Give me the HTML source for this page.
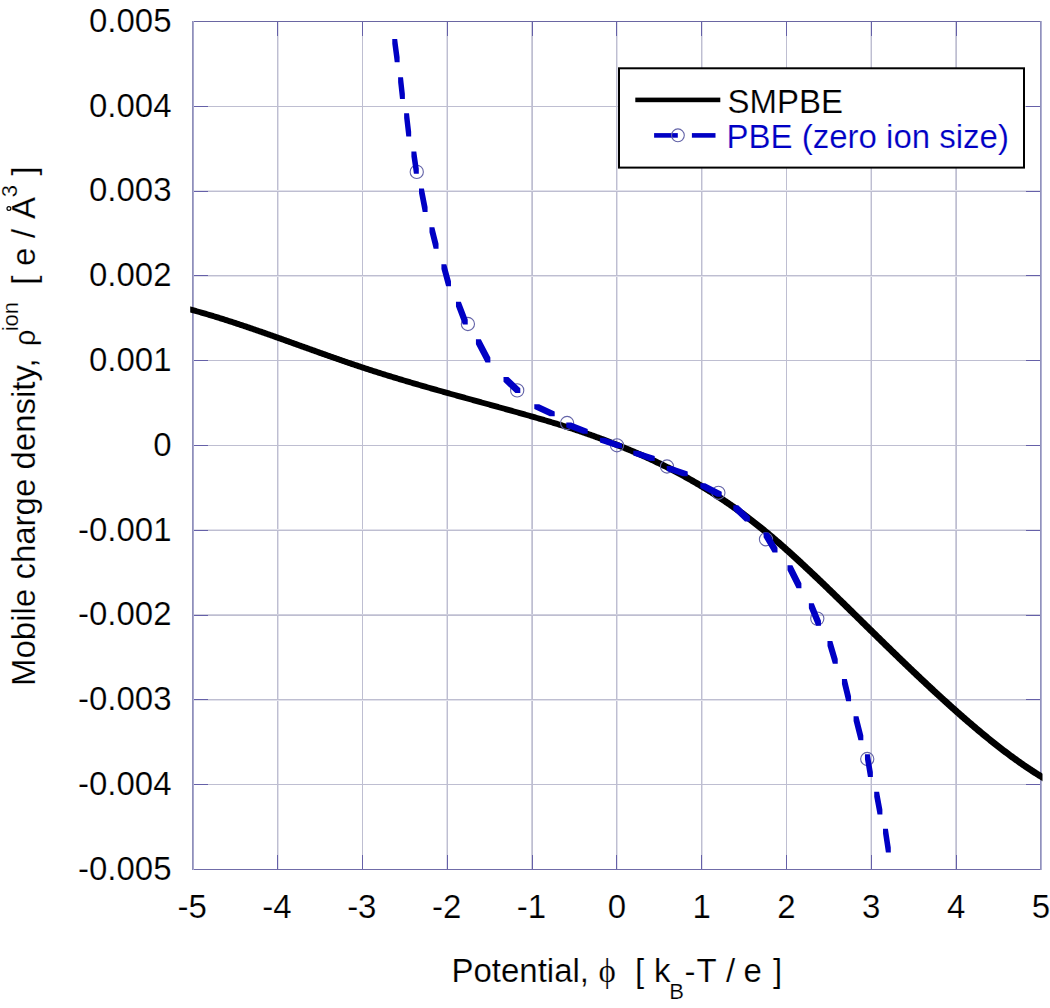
<!DOCTYPE html>
<html><head><meta charset="utf-8"><style>html,body{margin:0;padding:0;background:#fff;overflow:hidden}svg{display:block}text{stroke:#fff;stroke-width:0.2px;paint-order:fill}</style></head>
<body><svg width="1050" height="1008" viewBox="0 0 1050 1008"><rect x="0" y="0" width="1050" height="1008" fill="#fff"/>
<rect x="278" y="21" width="1" height="848" fill="#e1e1eb"/>
<rect x="277" y="21" width="1" height="848" fill="#bebed1"/>
<rect x="362" y="21" width="1" height="848" fill="#bebed1"/>
<rect x="446" y="21" width="1" height="848" fill="#e1e1eb"/>
<rect x="447" y="21" width="1" height="848" fill="#bebed1"/>
<rect x="531" y="21" width="1" height="848" fill="#cfcfdd"/>
<rect x="532" y="21" width="1" height="848" fill="#bebed1"/>
<rect x="617" y="21" width="1" height="848" fill="#e1e1eb"/>
<rect x="616" y="21" width="1" height="848" fill="#bebed1"/>
<rect x="702" y="21" width="1" height="848" fill="#e1e1eb"/>
<rect x="701" y="21" width="1" height="848" fill="#bebed1"/>
<rect x="786" y="21" width="1" height="848" fill="#bebed1"/>
<rect x="870" y="21" width="1" height="848" fill="#e1e1eb"/>
<rect x="871" y="21" width="1" height="848" fill="#bebed1"/>
<rect x="955" y="21" width="1" height="848" fill="#cfcfdd"/>
<rect x="956" y="21" width="1" height="848" fill="#bebed1"/>
<rect x="192" y="106" width="849" height="1" fill="#bebed1"/>
<rect x="192" y="190" width="849" height="1" fill="#e1e1eb"/>
<rect x="192" y="191" width="849" height="1" fill="#bebed1"/>
<rect x="192" y="276" width="849" height="1" fill="#e1e1eb"/>
<rect x="192" y="275" width="849" height="1" fill="#bebed1"/>
<rect x="192" y="360" width="849" height="1" fill="#bebed1"/>
<rect x="192" y="445" width="849" height="1" fill="#bebed1"/>
<rect x="192" y="529" width="849" height="1" fill="#e1e1eb"/>
<rect x="192" y="530" width="849" height="1" fill="#bebed1"/>
<rect x="192" y="614" width="849" height="1" fill="#cfcfdd"/>
<rect x="192" y="615" width="849" height="1" fill="#bebed1"/>
<rect x="192" y="700" width="849" height="1" fill="#e1e1eb"/>
<rect x="192" y="699" width="849" height="1" fill="#bebed1"/>
<rect x="192" y="784" width="849" height="1" fill="#bebed1"/>
<rect x="277" y="22" width="1" height="14" fill="#6560a8"/>
<rect x="277" y="855" width="1" height="14" fill="#6560a8"/>
<rect x="362" y="22" width="1" height="14" fill="#6560a8"/>
<rect x="362" y="855" width="1" height="14" fill="#6560a8"/>
<rect x="447" y="22" width="1" height="14" fill="#6560a8"/>
<rect x="447" y="855" width="1" height="14" fill="#6560a8"/>
<rect x="532" y="22" width="1" height="14" fill="#6560a8"/>
<rect x="532" y="855" width="1" height="14" fill="#6560a8"/>
<rect x="616" y="22" width="1" height="14" fill="#6560a8"/>
<rect x="616" y="855" width="1" height="14" fill="#6560a8"/>
<rect x="701" y="22" width="1" height="14" fill="#6560a8"/>
<rect x="701" y="855" width="1" height="14" fill="#6560a8"/>
<rect x="786" y="22" width="1" height="14" fill="#6560a8"/>
<rect x="786" y="855" width="1" height="14" fill="#6560a8"/>
<rect x="871" y="22" width="1" height="14" fill="#6560a8"/>
<rect x="871" y="855" width="1" height="14" fill="#6560a8"/>
<rect x="956" y="22" width="1" height="14" fill="#6560a8"/>
<rect x="956" y="855" width="1" height="14" fill="#6560a8"/>
<rect x="194" y="106" width="14" height="1" fill="#6560a8"/>
<rect x="1026" y="106" width="14" height="1" fill="#6560a8"/>
<rect x="194" y="191" width="14" height="1" fill="#6560a8"/>
<rect x="1026" y="191" width="14" height="1" fill="#6560a8"/>
<rect x="194" y="275" width="14" height="1" fill="#6560a8"/>
<rect x="1026" y="275" width="14" height="1" fill="#6560a8"/>
<rect x="194" y="360" width="14" height="1" fill="#6560a8"/>
<rect x="1026" y="360" width="14" height="1" fill="#6560a8"/>
<rect x="194" y="445" width="14" height="1" fill="#6560a8"/>
<rect x="1026" y="445" width="14" height="1" fill="#6560a8"/>
<rect x="194" y="530" width="14" height="1" fill="#6560a8"/>
<rect x="1026" y="530" width="14" height="1" fill="#6560a8"/>
<rect x="194" y="615" width="14" height="1" fill="#6560a8"/>
<rect x="1026" y="615" width="14" height="1" fill="#6560a8"/>
<rect x="194" y="699" width="14" height="1" fill="#6560a8"/>
<rect x="1026" y="699" width="14" height="1" fill="#6560a8"/>
<rect x="194" y="784" width="14" height="1" fill="#6560a8"/>
<rect x="1026" y="784" width="14" height="1" fill="#6560a8"/>
<rect x="192" y="21" width="850" height="1" fill="#6a66a2"/>
<rect x="192" y="869" width="850" height="1" fill="#706ca8"/>
<rect x="192" y="21" width="1" height="849" fill="#8f8fba"/>
<rect x="193" y="21" width="1" height="849" fill="#a8a8cc"/>
<rect x="1040" y="21" width="1" height="849" fill="#9191bc"/>
<rect x="1041" y="21" width="1" height="849" fill="#b0b0d2"/>
<clipPath id="bc"><rect x="190.2" y="0" width="852.3" height="1008"/></clipPath>
<path d="M185.26,311.15 L186.21,311.40 L187.16,311.66 L188.12,311.92 L189.07,312.17 L190.02,312.43 L190.97,312.70 L191.92,312.96 L192.88,313.22 L193.83,313.49 L194.78,313.75 L195.73,314.02 L196.69,314.29 L197.64,314.56 L198.59,314.84 L199.54,315.11 L200.49,315.39 L201.45,315.66 L202.40,315.94 L203.35,316.22 L204.30,316.50 L205.26,316.78 L206.21,317.06 L207.16,317.35 L208.12,317.63 L209.07,317.92 L210.02,318.21 L210.97,318.50 L211.93,318.79 L212.88,319.08 L213.83,319.37 L214.79,319.66 L215.74,319.96 L216.69,320.25 L217.64,320.55 L218.60,320.85 L219.55,321.15 L220.50,321.45 L221.46,321.75 L222.41,322.05 L223.36,322.35 L224.32,322.66 L225.27,322.96 L226.22,323.27 L227.18,323.57 L228.13,323.88 L229.09,324.19 L230.04,324.50 L230.99,324.81 L231.95,325.12 L232.90,325.44 L233.85,325.75 L234.81,326.06 L235.76,326.38 L236.72,326.70 L237.67,327.01 L238.62,327.33 L239.58,327.65 L240.53,327.97 L241.49,328.29 L242.44,328.61 L243.39,328.93 L244.35,329.25 L245.30,329.58 L246.26,329.90 L247.21,330.22 L248.17,330.55 L249.12,330.88 L250.08,331.20 L251.03,331.53 L251.99,331.86 L252.94,332.19 L253.89,332.52 L254.85,332.84 L255.80,333.18 L256.76,333.51 L257.71,333.84 L258.67,334.17 L259.62,334.50 L260.58,334.83 L261.53,335.17 L262.49,335.50 L263.44,335.84 L264.40,336.17 L265.35,336.51 L266.31,336.84 L267.26,337.18 L268.22,337.52 L269.18,337.85 L270.13,338.19 L271.09,338.53 L272.04,338.87 L273.00,339.21 L273.95,339.54 L274.91,339.88 L275.86,340.22 L276.82,340.56 L277.78,340.90 L278.73,341.24 L279.69,341.59 L280.64,341.93 L281.60,342.27 L282.55,342.61 L283.51,342.95 L284.47,343.29 L285.42,343.64 L286.38,343.98 L287.33,344.32 L288.29,344.66 L289.25,345.01 L290.20,345.35 L291.16,345.69 L292.12,346.03 L293.07,346.38 L294.03,346.72 L294.98,347.06 L295.94,347.41 L296.90,347.75 L297.85,348.09 L298.81,348.44 L299.77,348.78 L300.72,349.13 L301.68,349.47 L302.64,349.81 L303.59,350.16 L304.55,350.50 L305.51,350.84 L306.47,351.18 L307.42,351.53 L308.38,351.87 L309.34,352.21 L310.29,352.56 L311.25,352.90 L312.21,353.24 L313.16,353.58 L314.12,353.92 L315.08,354.27 L316.04,354.61 L316.99,354.95 L317.95,355.29 L318.91,355.63 L319.87,355.97 L320.82,356.31 L321.78,356.65 L322.74,356.99 L323.70,357.33 L324.65,357.67 L325.61,358.01 L326.57,358.34 L327.53,358.68 L328.49,359.02 L329.44,359.36 L330.40,359.69 L331.36,360.03 L332.32,360.36 L333.28,360.70 L334.23,361.03 L335.19,361.37 L336.15,361.70 L337.11,362.04 L338.07,362.37 L339.02,362.70 L339.98,363.03 L340.94,363.36 L341.90,363.69 L342.86,364.02 L343.82,364.35 L344.78,364.68 L345.73,365.01 L346.69,365.34 L347.65,365.66 L348.61,365.99 L349.57,366.31 L350.53,366.64 L351.49,366.96 L352.44,367.29 L353.40,367.61 L354.36,367.93 L355.32,368.25 L356.28,368.57 L357.24,368.89 L358.20,369.21 L359.16,369.53 L360.12,369.84 L361.08,370.16 L362.04,370.48 L362.99,370.79 L363.95,371.10 L364.91,371.42 L365.87,371.73 L366.83,372.04 L367.79,372.35 L368.75,372.66 L369.71,372.97 L370.67,373.28 L371.63,373.58 L372.59,373.89 L373.55,374.20 L374.50,374.50 L375.46,374.81 L376.42,375.11 L377.38,375.41 L378.34,375.71 L379.30,376.01 L380.26,376.31 L381.22,376.61 L382.18,376.91 L383.13,377.21 L384.09,377.51 L385.05,377.81 L386.01,378.10 L386.97,378.40 L387.93,378.69 L388.89,378.99 L389.85,379.28 L390.80,379.58 L391.76,379.87 L392.72,380.16 L393.68,380.45 L394.64,380.74 L395.60,381.03 L396.56,381.32 L397.51,381.61 L398.47,381.90 L399.43,382.19 L400.39,382.47 L401.35,382.76 L402.31,383.04 L403.26,383.33 L404.22,383.61 L405.18,383.90 L406.14,384.18 L407.10,384.47 L408.06,384.75 L409.01,385.03 L409.97,385.31 L410.93,385.59 L411.89,385.88 L412.85,386.16 L413.80,386.44 L414.76,386.71 L415.72,386.99 L416.68,387.27 L417.64,387.55 L418.59,387.83 L419.55,388.10 L420.51,388.38 L421.47,388.66 L422.43,388.93 L423.38,389.21 L424.34,389.48 L425.30,389.76 L426.26,390.03 L427.22,390.31 L428.17,390.58 L429.13,390.85 L430.09,391.13 L431.05,391.40 L432.00,391.67 L432.96,391.94 L433.92,392.21 L434.88,392.49 L435.84,392.76 L436.79,393.03 L437.75,393.30 L438.71,393.57 L439.67,393.84 L440.62,394.11 L441.58,394.37 L442.54,394.64 L443.50,394.91 L444.45,395.18 L445.41,395.45 L446.37,395.72 L447.32,395.98 L448.28,396.25 L449.24,396.52 L450.20,396.79 L451.15,397.05 L452.11,397.32 L453.07,397.59 L454.03,397.85 L454.98,398.12 L455.94,398.38 L456.90,398.65 L457.85,398.91 L458.81,399.18 L459.77,399.45 L460.73,399.71 L461.68,399.98 L462.64,400.24 L463.60,400.51 L464.55,400.77 L465.51,401.03 L466.47,401.30 L467.42,401.56 L468.38,401.83 L469.34,402.09 L470.29,402.36 L471.25,402.62 L472.21,402.88 L473.16,403.15 L474.12,403.41 L475.08,403.68 L476.04,403.94 L476.99,404.20 L477.95,404.47 L478.91,404.73 L479.86,405.00 L480.82,405.26 L481.77,405.52 L482.73,405.79 L483.69,406.05 L484.64,406.32 L485.60,406.58 L486.56,406.84 L487.51,407.11 L488.47,407.37 L489.43,407.64 L490.38,407.90 L491.34,408.17 L492.30,408.43 L493.25,408.70 L494.21,408.96 L495.16,409.22 L496.12,409.49 L497.08,409.76 L498.03,410.02 L498.99,410.29 L499.95,410.55 L500.90,410.82 L501.86,411.08 L502.81,411.35 L503.77,411.62 L504.73,411.88 L505.68,412.15 L506.64,412.42 L507.59,412.68 L508.55,412.95 L509.51,413.22 L510.46,413.49 L511.42,413.75 L512.37,414.02 L513.33,414.29 L514.29,414.56 L515.24,414.83 L516.20,415.10 L517.15,415.37 L518.11,415.64 L519.06,415.91 L520.02,416.18 L520.98,416.45 L521.93,416.72 L522.89,416.99 L523.84,417.26 L524.80,417.53 L525.75,417.80 L526.71,418.08 L527.66,418.35 L528.62,418.62 L529.58,418.90 L530.53,419.17 L531.49,419.45 L532.44,419.72 L533.40,420.00 L534.35,420.27 L535.31,420.55 L536.26,420.82 L537.22,421.10 L538.17,421.38 L539.13,421.66 L540.08,421.94 L541.04,422.22 L541.99,422.50 L542.95,422.78 L543.90,423.06 L544.85,423.34 L545.81,423.62 L546.76,423.91 L547.72,424.19 L548.67,424.48 L549.63,424.76 L550.58,425.05 L551.53,425.34 L552.49,425.63 L553.44,425.92 L554.39,426.21 L555.35,426.50 L556.30,426.79 L557.25,427.08 L558.21,427.38 L559.16,427.67 L560.11,427.97 L561.07,428.27 L562.02,428.57 L562.97,428.87 L563.93,429.17 L564.88,429.47 L565.83,429.77 L566.78,430.08 L567.74,430.39 L568.69,430.69 L569.64,431.00 L570.59,431.31 L571.55,431.62 L572.50,431.94 L573.45,432.25 L574.40,432.57 L575.36,432.88 L576.31,433.20 L577.26,433.52 L578.21,433.84 L579.16,434.17 L580.12,434.49 L581.07,434.82 L582.02,435.14 L582.97,435.47 L583.92,435.80 L584.88,436.13 L585.83,436.47 L586.78,436.80 L587.73,437.14 L588.68,437.47 L589.64,437.81 L590.59,438.15 L591.54,438.50 L592.49,438.84 L593.45,439.18 L594.40,439.53 L595.35,439.88 L596.30,440.23 L597.25,440.58 L598.21,440.93 L599.16,441.28 L600.11,441.64 L601.06,441.99 L602.01,442.35 L602.97,442.71 L603.92,443.07 L604.87,443.43 L605.82,443.79 L606.77,444.16 L607.73,444.53 L608.68,444.89 L609.63,445.26 L610.58,445.63 L611.54,446.01 L612.49,446.38 L613.44,446.76 L614.39,447.13 L615.34,447.51 L616.30,447.89 L617.25,448.27 L618.20,448.65 L619.15,449.04 L620.10,449.42 L621.06,449.81 L622.01,450.20 L622.96,450.59 L623.91,450.98 L624.86,451.38 L625.81,451.77 L626.77,452.17 L627.72,452.57 L628.67,452.97 L629.62,453.37 L630.57,453.77 L631.52,454.18 L632.47,454.58 L633.43,454.99 L634.38,455.40 L635.33,455.82 L636.28,456.23 L637.23,456.65 L638.18,457.07 L639.13,457.49 L640.08,457.91 L641.03,458.33 L641.99,458.76 L642.94,459.18 L643.89,459.61 L644.84,460.05 L645.79,460.48 L646.74,460.91 L647.69,461.35 L648.64,461.79 L649.59,462.23 L650.54,462.68 L651.49,463.12 L652.44,463.57 L653.39,464.02 L654.34,464.47 L655.29,464.93 L656.24,465.39 L657.19,465.84 L658.14,466.31 L659.09,466.77 L660.04,467.23 L660.99,467.70 L661.94,468.17 L662.89,468.65 L663.84,469.12 L664.79,469.60 L665.74,470.08 L666.69,470.56 L667.64,471.04 L668.59,471.53 L669.54,472.02 L670.49,472.51 L671.44,473.00 L672.39,473.50 L673.34,474.00 L674.29,474.50 L675.24,475.00 L676.19,475.51 L677.14,476.02 L678.09,476.53 L679.04,477.04 L679.99,477.56 L680.94,478.08 L681.89,478.60 L682.84,479.12 L683.79,479.65 L684.74,480.18 L685.69,480.71 L686.64,481.24 L687.59,481.78 L688.54,482.32 L689.49,482.86 L690.44,483.40 L691.39,483.95 L692.34,484.50 L693.29,485.05 L694.24,485.61 L695.19,486.17 L696.14,486.73 L697.09,487.29 L698.04,487.86 L698.99,488.43 L699.94,489.00 L700.89,489.57 L701.84,490.15 L702.79,490.73 L703.74,491.31 L704.69,491.90 L705.63,492.49 L706.58,493.08 L707.53,493.68 L708.48,494.27 L709.43,494.87 L710.38,495.48 L711.33,496.08 L712.28,496.69 L713.23,497.31 L714.18,497.92 L715.13,498.54 L716.08,499.16 L717.03,499.78 L717.98,500.41 L718.93,501.04 L719.88,501.68 L720.83,502.31 L721.78,502.95 L722.73,503.60 L723.68,504.24 L724.63,504.89 L725.58,505.54 L726.53,506.20 L727.48,506.86 L728.43,507.52 L729.38,508.18 L730.33,508.85 L731.28,509.52 L732.22,510.20 L733.17,510.87 L734.12,511.56 L735.07,512.24 L736.02,512.93 L736.97,513.62 L737.92,514.31 L738.87,515.01 L739.82,515.71 L740.77,516.41 L741.72,517.12 L742.67,517.83 L743.62,518.55 L744.57,519.27 L745.52,519.99 L746.47,520.71 L747.42,521.44 L748.37,522.17 L749.32,522.90 L750.27,523.64 L751.22,524.39 L752.17,525.13 L753.12,525.88 L754.07,526.63 L755.02,527.39 L755.97,528.15 L756.92,528.91 L757.87,529.68 L758.82,530.45 L759.78,531.22 L760.73,532.00 L761.68,532.78 L762.63,533.56 L763.58,534.35 L764.53,535.13 L765.48,535.93 L766.43,536.72 L767.38,537.52 L768.34,538.32 L769.29,539.13 L770.24,539.94 L771.19,540.75 L772.14,541.56 L773.09,542.38 L774.05,543.20 L775.00,544.02 L775.95,544.85 L776.90,545.68 L777.85,546.51 L778.81,547.34 L779.76,548.18 L780.71,549.02 L781.66,549.86 L782.62,550.71 L783.57,551.55 L784.52,552.40 L785.48,553.26 L786.43,554.11 L787.38,554.97 L788.33,555.83 L789.29,556.69 L790.24,557.55 L791.19,558.42 L792.15,559.29 L793.10,560.16 L794.06,561.04 L795.01,561.91 L795.96,562.79 L796.92,563.67 L797.87,564.55 L798.82,565.43 L799.78,566.32 L800.73,567.21 L801.69,568.09 L802.64,568.99 L803.59,569.88 L804.55,570.77 L805.50,571.67 L806.46,572.57 L807.41,573.47 L808.37,574.37 L809.32,575.27 L810.28,576.17 L811.23,577.08 L812.19,577.98 L813.14,578.89 L814.10,579.80 L815.05,580.71 L816.01,581.62 L816.96,582.53 L817.92,583.45 L818.87,584.36 L819.83,585.28 L820.78,586.20 L821.74,587.11 L822.69,588.03 L823.65,588.95 L824.60,589.87 L825.56,590.80 L826.51,591.72 L827.47,592.65 L828.42,593.57 L829.38,594.50 L830.34,595.42 L831.29,596.35 L832.25,597.28 L833.20,598.21 L834.16,599.14 L835.11,600.07 L836.07,601.00 L837.02,601.93 L837.98,602.87 L838.94,603.80 L839.89,604.74 L840.85,605.67 L841.80,606.61 L842.76,607.54 L843.72,608.48 L844.67,609.41 L845.63,610.35 L846.58,611.29 L847.54,612.23 L848.50,613.16 L849.45,614.10 L850.41,615.04 L851.37,615.98 L852.32,616.92 L853.28,617.86 L854.24,618.80 L855.19,619.74 L856.15,620.68 L857.10,621.62 L858.06,622.56 L859.02,623.50 L859.97,624.44 L860.93,625.38 L861.89,626.32 L862.84,627.26 L863.80,628.20 L864.76,629.14 L865.72,630.08 L866.67,631.02 L867.63,631.96 L868.59,632.90 L869.54,633.84 L870.50,634.78 L871.46,635.72 L872.41,636.66 L873.37,637.60 L874.33,638.53 L875.29,639.47 L876.24,640.41 L877.20,641.34 L878.16,642.28 L879.11,643.22 L880.07,644.15 L881.03,645.09 L881.99,646.02 L882.94,646.95 L883.90,647.89 L884.86,648.82 L885.82,649.75 L886.77,650.68 L887.73,651.62 L888.69,652.55 L889.64,653.48 L890.60,654.41 L891.56,655.33 L892.52,656.26 L893.47,657.19 L894.43,658.12 L895.39,659.04 L896.35,659.97 L897.31,660.89 L898.26,661.82 L899.22,662.74 L900.18,663.66 L901.14,664.58 L902.09,665.51 L903.05,666.43 L904.01,667.34 L904.97,668.26 L905.92,669.18 L906.88,670.10 L907.84,671.01 L908.80,671.93 L909.76,672.84 L910.71,673.75 L911.67,674.66 L912.63,675.58 L913.59,676.49 L914.55,677.39 L915.50,678.30 L916.46,679.21 L917.42,680.11 L918.38,681.02 L919.34,681.92 L920.30,682.82 L921.25,683.72 L922.21,684.62 L923.17,685.52 L924.13,686.42 L925.09,687.32 L926.05,688.21 L927.00,689.11 L927.96,690.00 L928.92,690.89 L929.88,691.78 L930.84,692.67 L931.80,693.56 L932.76,694.44 L933.71,695.33 L934.67,696.21 L935.63,697.09 L936.59,697.97 L937.55,698.85 L938.51,699.73 L939.47,700.60 L940.42,701.48 L941.38,702.35 L942.34,703.22 L943.30,704.09 L944.26,704.96 L945.22,705.83 L946.18,706.70 L947.14,707.56 L948.10,708.42 L949.06,709.28 L950.01,710.14 L950.97,711.00 L951.93,711.85 L952.89,712.71 L953.85,713.56 L954.81,714.41 L955.77,715.26 L956.73,716.11 L957.69,716.95 L958.65,717.80 L959.61,718.64 L960.57,719.48 L961.53,720.31 L962.49,721.15 L963.45,721.98 L964.41,722.82 L965.37,723.65 L966.33,724.47 L967.29,725.30 L968.25,726.12 L969.21,726.94 L970.17,727.76 L971.13,728.58 L972.09,729.40 L973.05,730.21 L974.01,731.02 L974.97,731.83 L975.93,732.63 L976.89,733.44 L977.85,734.24 L978.81,735.04 L979.77,735.84 L980.73,736.63 L981.70,737.42 L982.66,738.21 L983.62,739.00 L984.58,739.78 L985.54,740.56 L986.50,741.34 L987.46,742.12 L988.42,742.89 L989.39,743.66 L990.35,744.43 L991.31,745.20 L992.27,745.96 L993.23,746.72 L994.19,747.48 L995.16,748.23 L996.12,748.98 L997.08,749.73 L998.04,750.47 L999.00,751.22 L999.97,751.96 L1000.93,752.69 L1001.89,753.43 L1002.85,754.16 L1003.82,754.88 L1004.78,755.61 L1005.74,756.33 L1006.71,757.05 L1007.67,757.76 L1008.63,758.47 L1009.60,759.18 L1010.56,759.89 L1011.52,760.59 L1012.49,761.29 L1013.45,761.98 L1014.41,762.67 L1015.38,763.36 L1016.34,764.05 L1017.30,764.73 L1018.27,765.40 L1019.23,766.08 L1020.20,766.75 L1021.16,767.41 L1022.13,768.08 L1023.09,768.74 L1024.06,769.39 L1025.02,770.05 L1025.99,770.69 L1026.95,771.34 L1027.92,771.98 L1028.88,772.62 L1029.85,773.25 L1030.81,773.88 L1031.78,774.50 L1032.74,775.13 L1033.71,775.74 L1034.68,776.36 L1035.64,776.97 L1036.61,777.57 L1037.57,778.17 L1038.54,778.77 L1039.51,779.36 L1040.47,779.95 L1041.44,780.54 L1042.41,781.12 L1043.37,781.69 L1044.34,782.27 L1047.66,776.67 L1046.71,776.10 L1045.77,775.53 L1044.82,774.96 L1043.87,774.38 L1042.93,773.80 L1041.98,773.21 L1041.03,772.62 L1040.09,772.02 L1039.14,771.43 L1038.19,770.82 L1037.25,770.22 L1036.30,769.61 L1035.35,768.99 L1034.40,768.37 L1033.45,767.75 L1032.51,767.12 L1031.56,766.49 L1030.61,765.86 L1029.66,765.22 L1028.71,764.58 L1027.77,763.94 L1026.82,763.29 L1025.87,762.64 L1024.92,761.98 L1023.97,761.32 L1023.02,760.66 L1022.07,759.99 L1021.12,759.32 L1020.18,758.64 L1019.23,757.97 L1018.28,757.29 L1017.33,756.60 L1016.38,755.91 L1015.43,755.22 L1014.48,754.53 L1013.53,753.83 L1012.58,753.13 L1011.63,752.43 L1010.68,751.72 L1009.73,751.01 L1008.78,750.29 L1007.83,749.58 L1006.88,748.85 L1005.93,748.13 L1004.97,747.40 L1004.02,746.67 L1003.07,745.94 L1002.12,745.21 L1001.17,744.47 L1000.22,743.73 L999.27,742.98 L998.32,742.23 L997.37,741.48 L996.41,740.73 L995.46,739.97 L994.51,739.21 L993.56,738.45 L992.61,737.69 L991.66,736.92 L990.70,736.15 L989.75,735.38 L988.80,734.60 L987.85,733.82 L986.90,733.04 L985.94,732.26 L984.99,731.47 L984.04,730.68 L983.09,729.89 L982.13,729.10 L981.18,728.31 L980.23,727.51 L979.28,726.71 L978.32,725.90 L977.37,725.10 L976.42,724.29 L975.47,723.48 L974.51,722.67 L973.56,721.85 L972.61,721.04 L971.65,720.22 L970.70,719.40 L969.75,718.58 L968.79,717.75 L967.84,716.92 L966.89,716.09 L965.93,715.26 L964.98,714.43 L964.03,713.60 L963.07,712.76 L962.12,711.92 L961.17,711.08 L960.21,710.24 L959.26,709.39 L958.30,708.55 L957.35,707.70 L956.40,706.85 L955.44,706.00 L954.49,705.14 L953.53,704.29 L952.58,703.43 L951.63,702.57 L950.67,701.71 L949.72,700.85 L948.76,699.99 L947.81,699.12 L946.85,698.26 L945.90,697.39 L944.95,696.52 L943.99,695.65 L943.04,694.78 L942.08,693.90 L941.13,693.03 L940.17,692.15 L939.22,691.27 L938.26,690.39 L937.31,689.51 L936.35,688.63 L935.40,687.74 L934.45,686.86 L933.49,685.97 L932.54,685.08 L931.58,684.19 L930.63,683.30 L929.67,682.41 L928.72,681.52 L927.76,680.62 L926.81,679.73 L925.85,678.83 L924.90,677.93 L923.94,677.03 L922.99,676.13 L922.03,675.23 L921.08,674.33 L920.12,673.43 L919.17,672.52 L918.21,671.61 L917.26,670.71 L916.30,669.80 L915.35,668.89 L914.39,667.98 L913.44,667.07 L912.48,666.16 L911.52,665.24 L910.57,664.33 L909.61,663.41 L908.66,662.50 L907.70,661.58 L906.75,660.66 L905.79,659.74 L904.84,658.82 L903.88,657.90 L902.93,656.98 L901.97,656.06 L901.01,655.14 L900.06,654.21 L899.10,653.29 L898.15,652.37 L897.19,651.44 L896.24,650.51 L895.28,649.59 L894.32,648.66 L893.37,647.73 L892.41,646.80 L891.46,645.87 L890.50,644.94 L889.54,644.01 L888.59,643.08 L887.63,642.15 L886.68,641.21 L885.72,640.28 L884.77,639.35 L883.81,638.41 L882.85,637.48 L881.90,636.54 L880.94,635.61 L879.98,634.67 L879.03,633.73 L878.07,632.80 L877.12,631.86 L876.16,630.92 L875.20,629.98 L874.25,629.05 L873.29,628.11 L872.34,627.17 L871.38,626.23 L870.42,625.29 L869.47,624.35 L868.51,623.41 L867.55,622.47 L866.60,621.53 L865.64,620.59 L864.68,619.65 L863.73,618.71 L862.77,617.77 L861.81,616.83 L860.86,615.89 L859.90,614.95 L858.94,614.01 L857.99,613.07 L857.03,612.13 L856.07,611.19 L855.12,610.25 L854.16,609.31 L853.20,608.37 L852.25,607.43 L851.29,606.49 L850.33,605.55 L849.37,604.62 L848.42,603.68 L847.46,602.74 L846.50,601.80 L845.55,600.87 L844.59,599.93 L843.63,599.00 L842.67,598.06 L841.72,597.13 L840.76,596.19 L839.80,595.26 L838.84,594.33 L837.89,593.40 L836.93,592.46 L835.97,591.53 L835.01,590.60 L834.06,589.67 L833.10,588.75 L832.14,587.82 L831.18,586.89 L830.22,585.97 L829.27,585.04 L828.31,584.12 L827.35,583.20 L826.39,582.27 L825.43,581.35 L824.48,580.43 L823.52,579.51 L822.56,578.60 L821.60,577.68 L820.64,576.76 L819.69,575.85 L818.73,574.94 L817.77,574.02 L816.81,573.11 L815.85,572.20 L814.89,571.30 L813.94,570.39 L812.98,569.48 L812.02,568.58 L811.06,567.68 L810.10,566.77 L809.14,565.88 L808.18,564.98 L807.22,564.08 L806.26,563.19 L805.31,562.29 L804.35,561.40 L803.39,560.51 L802.43,559.62 L801.47,558.74 L800.51,557.85 L799.55,556.97 L798.59,556.09 L797.63,555.21 L796.67,554.33 L795.71,553.46 L794.75,552.59 L793.79,551.72 L792.83,550.85 L791.87,549.98 L790.91,549.12 L789.95,548.26 L788.99,547.40 L788.03,546.54 L787.07,545.69 L786.11,544.84 L785.15,543.99 L784.19,543.15 L783.23,542.30 L782.27,541.46 L781.30,540.62 L780.34,539.79 L779.38,538.96 L778.42,538.13 L777.46,537.30 L776.50,536.48 L775.54,535.65 L774.58,534.84 L773.61,534.02 L772.65,533.21 L771.69,532.40 L770.73,531.59 L769.77,530.79 L768.80,529.99 L767.84,529.19 L766.88,528.40 L765.92,527.61 L764.96,526.82 L763.99,526.04 L763.03,525.26 L762.07,524.48 L761.11,523.70 L760.14,522.93 L759.18,522.17 L758.22,521.40 L757.25,520.64 L756.29,519.88 L755.33,519.13 L754.36,518.38 L753.40,517.64 L752.44,516.89 L751.47,516.15 L750.51,515.42 L749.55,514.69 L748.58,513.96 L747.62,513.23 L746.66,512.51 L745.69,511.79 L744.73,511.08 L743.77,510.37 L742.80,509.66 L741.84,508.95 L740.88,508.25 L739.91,507.55 L738.95,506.86 L737.99,506.17 L737.02,505.48 L736.06,504.80 L735.10,504.12 L734.13,503.44 L733.17,502.76 L732.21,502.09 L731.24,501.42 L730.28,500.76 L729.32,500.10 L728.35,499.44 L727.39,498.78 L726.42,498.13 L725.46,497.48 L724.50,496.84 L723.53,496.20 L722.57,495.56 L721.61,494.92 L720.64,494.29 L719.68,493.66 L718.72,493.03 L717.75,492.41 L716.79,491.79 L715.82,491.17 L714.86,490.55 L713.90,489.94 L712.93,489.33 L711.97,488.73 L711.01,488.13 L710.04,487.53 L709.08,486.93 L708.12,486.34 L707.15,485.75 L706.19,485.16 L705.22,484.57 L704.26,483.99 L703.30,483.41 L702.33,482.84 L701.37,482.26 L700.41,481.69 L699.44,481.12 L698.48,480.56 L697.52,480.00 L696.55,479.44 L695.59,478.88 L694.63,478.33 L693.66,477.78 L692.70,477.23 L691.73,476.68 L690.77,476.14 L689.81,475.60 L688.84,475.06 L687.88,474.53 L686.92,474.00 L685.95,473.47 L684.99,472.94 L684.03,472.42 L683.06,471.90 L682.10,471.38 L681.14,470.86 L680.17,470.35 L679.21,469.84 L678.25,469.33 L677.28,468.82 L676.32,468.32 L675.36,467.82 L674.39,467.32 L673.43,466.82 L672.47,466.33 L671.50,465.84 L670.54,465.35 L669.58,464.86 L668.61,464.38 L667.65,463.90 L666.69,463.42 L665.72,462.94 L664.76,462.47 L663.80,462.00 L662.83,461.53 L661.87,461.06 L660.91,460.59 L659.95,460.13 L658.98,459.67 L658.02,459.21 L657.06,458.76 L656.09,458.30 L655.13,457.85 L654.17,457.40 L653.21,456.96 L652.24,456.51 L651.28,456.07 L650.32,455.63 L649.35,455.19 L648.39,454.75 L647.43,454.32 L646.47,453.89 L645.50,453.46 L644.54,453.03 L643.58,452.60 L642.62,452.18 L641.66,451.75 L640.69,451.33 L639.73,450.92 L638.77,450.50 L637.81,450.08 L636.84,449.67 L635.88,449.26 L634.92,448.85 L633.96,448.44 L633.00,448.04 L632.03,447.63 L631.07,447.23 L630.11,446.83 L629.15,446.43 L628.19,446.04 L627.23,445.64 L626.26,445.25 L625.30,444.86 L624.34,444.47 L623.38,444.08 L622.42,443.69 L621.46,443.30 L620.50,442.92 L619.54,442.54 L618.57,442.16 L617.61,441.78 L616.65,441.40 L615.69,441.02 L614.73,440.65 L613.77,440.28 L612.81,439.90 L611.85,439.53 L610.89,439.16 L609.92,438.80 L608.96,438.43 L608.00,438.07 L607.04,437.70 L606.08,437.34 L605.12,436.98 L604.16,436.62 L603.20,436.27 L602.23,435.91 L601.27,435.56 L600.31,435.20 L599.35,434.85 L598.39,434.50 L597.43,434.16 L596.47,433.81 L595.51,433.46 L594.55,433.12 L593.58,432.78 L592.62,432.44 L591.66,432.10 L590.70,431.76 L589.74,431.42 L588.78,431.09 L587.82,430.76 L586.86,430.42 L585.90,430.09 L584.93,429.76 L583.97,429.44 L583.01,429.11 L582.05,428.79 L581.09,428.46 L580.13,428.14 L579.17,427.82 L578.21,427.50 L577.25,427.19 L576.28,426.87 L575.32,426.56 L574.36,426.24 L573.40,425.93 L572.44,425.62 L571.48,425.31 L570.52,425.00 L569.56,424.70 L568.60,424.39 L567.64,424.09 L566.68,423.79 L565.72,423.49 L564.76,423.19 L563.79,422.89 L562.83,422.59 L561.87,422.29 L560.91,422.00 L559.95,421.70 L558.99,421.41 L558.03,421.12 L557.08,420.83 L556.12,420.54 L555.16,420.25 L554.20,419.96 L553.24,419.67 L552.28,419.38 L551.32,419.10 L550.36,418.81 L549.40,418.53 L548.44,418.25 L547.48,417.96 L546.52,417.68 L545.56,417.40 L544.61,417.12 L543.65,416.84 L542.69,416.56 L541.73,416.28 L540.77,416.00 L539.81,415.73 L538.85,415.45 L537.90,415.17 L536.94,414.90 L535.98,414.62 L535.02,414.35 L534.06,414.07 L533.11,413.80 L532.15,413.52 L531.19,413.25 L530.23,412.98 L529.27,412.70 L528.32,412.43 L527.36,412.16 L526.40,411.89 L525.44,411.62 L524.49,411.35 L523.53,411.08 L522.57,410.80 L521.61,410.53 L520.66,410.26 L519.70,410.00 L518.74,409.73 L517.78,409.46 L516.83,409.19 L515.87,408.92 L514.91,408.65 L513.95,408.38 L513.00,408.12 L512.04,407.85 L511.08,407.58 L510.12,407.31 L509.17,407.05 L508.21,406.78 L507.25,406.51 L506.30,406.25 L505.34,405.98 L504.38,405.71 L503.42,405.45 L502.47,405.18 L501.51,404.92 L500.55,404.65 L499.60,404.39 L498.64,404.12 L497.68,403.86 L496.72,403.59 L495.77,403.33 L494.81,403.06 L493.85,402.80 L492.90,402.53 L491.94,402.27 L490.98,402.00 L490.03,401.74 L489.07,401.48 L488.11,401.21 L487.16,400.95 L486.20,400.68 L485.24,400.42 L484.29,400.16 L483.33,399.89 L482.37,399.63 L481.42,399.36 L480.46,399.10 L479.50,398.84 L478.55,398.57 L477.59,398.31 L476.63,398.04 L475.68,397.78 L474.72,397.52 L473.76,397.25 L472.81,396.99 L471.85,396.72 L470.89,396.46 L469.94,396.20 L468.98,395.93 L468.02,395.67 L467.07,395.40 L466.11,395.14 L465.16,394.87 L464.20,394.61 L463.24,394.34 L462.29,394.08 L461.33,393.81 L460.37,393.55 L459.42,393.28 L458.46,393.01 L457.51,392.75 L456.55,392.48 L455.59,392.22 L454.64,391.95 L453.68,391.68 L452.73,391.42 L451.77,391.15 L450.81,390.88 L449.86,390.61 L448.90,390.35 L447.95,390.08 L446.99,389.81 L446.03,389.54 L445.08,389.27 L444.12,389.00 L443.17,388.73 L442.21,388.47 L441.26,388.20 L440.30,387.93 L439.34,387.65 L438.39,387.38 L437.43,387.11 L436.48,386.84 L435.52,386.57 L434.57,386.30 L433.61,386.03 L432.66,385.75 L431.70,385.48 L430.74,385.21 L429.79,384.93 L428.83,384.66 L427.88,384.38 L426.92,384.11 L425.97,383.83 L425.01,383.56 L424.06,383.28 L423.10,383.01 L422.15,382.73 L421.19,382.45 L420.24,382.17 L419.28,381.90 L418.32,381.62 L417.37,381.34 L416.41,381.06 L415.46,380.78 L414.50,380.50 L413.55,380.22 L412.59,379.94 L411.64,379.65 L410.68,379.37 L409.73,379.09 L408.77,378.81 L407.82,378.52 L406.86,378.24 L405.91,377.95 L404.95,377.67 L404.00,377.38 L403.04,377.09 L402.09,376.81 L401.13,376.52 L400.18,376.23 L399.23,375.94 L398.27,375.65 L397.32,375.36 L396.36,375.07 L395.41,374.78 L394.45,374.49 L393.50,374.20 L392.54,373.90 L391.59,373.61 L390.63,373.31 L389.68,373.02 L388.72,372.72 L387.77,372.43 L386.81,372.13 L385.86,371.83 L384.91,371.53 L383.95,371.23 L383.00,370.93 L382.04,370.63 L381.09,370.33 L380.13,370.03 L379.18,369.73 L378.23,369.42 L377.27,369.12 L376.32,368.81 L375.36,368.51 L374.41,368.20 L373.45,367.90 L372.50,367.59 L371.55,367.28 L370.59,366.97 L369.64,366.66 L368.68,366.35 L367.73,366.04 L366.78,365.72 L365.82,365.41 L364.87,365.09 L363.91,364.78 L362.96,364.46 L362.01,364.15 L361.05,363.83 L360.10,363.51 L359.14,363.19 L358.19,362.87 L357.23,362.55 L356.28,362.23 L355.33,361.91 L354.37,361.58 L353.42,361.26 L352.46,360.93 L351.51,360.61 L350.55,360.28 L349.60,359.96 L348.64,359.63 L347.69,359.30 L346.74,358.97 L345.78,358.64 L344.83,358.31 L343.87,357.98 L342.92,357.65 L341.96,357.32 L341.01,356.99 L340.05,356.66 L339.10,356.32 L338.14,355.99 L337.19,355.66 L336.23,355.32 L335.28,354.99 L334.32,354.65 L333.37,354.32 L332.41,353.98 L331.46,353.64 L330.50,353.30 L329.54,352.97 L328.59,352.63 L327.63,352.29 L326.68,351.95 L325.72,351.61 L324.77,351.27 L323.81,350.93 L322.86,350.59 L321.90,350.25 L320.94,349.91 L319.99,349.57 L319.03,349.23 L318.08,348.89 L317.12,348.55 L316.16,348.21 L315.21,347.86 L314.25,347.52 L313.30,347.18 L312.34,346.84 L311.38,346.50 L310.43,346.15 L309.47,345.81 L308.52,345.47 L307.56,345.12 L306.60,344.78 L305.65,344.44 L304.69,344.09 L303.73,343.75 L302.78,343.41 L301.82,343.06 L300.86,342.72 L299.91,342.38 L298.95,342.03 L297.99,341.69 L297.04,341.35 L296.08,341.00 L295.12,340.66 L294.17,340.32 L293.21,339.97 L292.25,339.63 L291.30,339.29 L290.34,338.95 L289.38,338.60 L288.42,338.26 L287.47,337.92 L286.51,337.58 L285.55,337.23 L284.60,336.89 L283.64,336.55 L282.68,336.21 L281.72,335.87 L280.77,335.53 L279.81,335.19 L278.85,334.85 L277.89,334.51 L276.94,334.17 L275.98,333.83 L275.02,333.49 L274.06,333.15 L273.11,332.81 L272.15,332.48 L271.19,332.14 L270.23,331.80 L269.27,331.47 L268.32,331.13 L267.36,330.79 L266.40,330.46 L265.44,330.12 L264.48,329.79 L263.53,329.46 L262.57,329.12 L261.61,328.79 L260.65,328.46 L259.69,328.13 L258.73,327.80 L257.78,327.47 L256.82,327.14 L255.86,326.81 L254.90,326.48 L253.94,326.15 L252.98,325.82 L252.02,325.50 L251.07,325.17 L250.11,324.84 L249.15,324.52 L248.19,324.20 L247.23,323.87 L246.27,323.55 L245.31,323.23 L244.35,322.91 L243.39,322.59 L242.44,322.27 L241.48,321.95 L240.52,321.63 L239.56,321.31 L238.60,321.00 L237.64,320.68 L236.68,320.37 L235.72,320.06 L234.76,319.74 L233.80,319.43 L232.84,319.12 L231.88,318.81 L230.92,318.50 L229.96,318.19 L229.00,317.89 L228.04,317.58 L227.08,317.27 L226.12,316.97 L225.17,316.67 L224.21,316.37 L223.25,316.06 L222.29,315.77 L221.33,315.47 L220.37,315.17 L219.41,314.87 L218.45,314.58 L217.49,314.28 L216.52,313.99 L215.56,313.70 L214.60,313.41 L213.64,313.12 L212.68,312.83 L211.72,312.54 L210.76,312.25 L209.80,311.97 L208.84,311.69 L207.88,311.40 L206.92,311.12 L205.96,310.84 L205.00,310.56 L204.04,310.29 L203.08,310.01 L202.12,309.74 L201.16,309.46 L200.20,309.19 L199.23,308.92 L198.27,308.65 L197.31,308.38 L196.35,308.12 L195.39,307.85 L194.43,307.59 L193.47,307.33 L192.51,307.07 L191.55,306.81 L190.58,306.55 L189.62,306.30 L188.66,306.04 L187.70,305.79 L186.74,305.54Z" fill="#000" clip-path="url(#bc)"/>
<circle cx="416.75" cy="171.90" r="6.6" fill="none" stroke="#6464a8" stroke-width="1.1"/>
<circle cx="467.90" cy="324.00" r="6.6" fill="none" stroke="#6464a8" stroke-width="1.1"/>
<circle cx="517.20" cy="390.40" r="6.6" fill="none" stroke="#6464a8" stroke-width="1.1"/>
<circle cx="567.10" cy="423.00" r="6.6" fill="none" stroke="#6464a8" stroke-width="1.1"/>
<circle cx="617.00" cy="445.30" r="6.6" fill="none" stroke="#6464a8" stroke-width="1.1"/>
<circle cx="667.00" cy="466.50" r="6.6" fill="none" stroke="#6464a8" stroke-width="1.1"/>
<circle cx="718.40" cy="492.80" r="6.6" fill="none" stroke="#6464a8" stroke-width="1.1"/>
<circle cx="766.00" cy="539.30" r="6.6" fill="none" stroke="#6464a8" stroke-width="1.1"/>
<circle cx="817.30" cy="618.60" r="6.6" fill="none" stroke="#6464a8" stroke-width="1.1"/>
<circle cx="867.25" cy="759.00" r="6.6" fill="none" stroke="#6464a8" stroke-width="1.1"/>
<path d="M399.62,57.30 L399.62,62.20 L394.72,62.20 L392.28,43.80 L392.28,38.90 L397.18,38.90Z M404.88,94.00 L404.88,98.90 L399.98,98.90 L398.12,82.20 L398.12,77.30 L403.02,77.30Z M411.17,131.70 L411.17,136.60 L406.27,136.60 L404.13,118.10 L404.13,113.20 L409.03,113.20Z M418.80,168.80 L418.80,173.70 L413.90,173.70 L411.40,156.40 L411.40,151.50 L416.30,151.50Z M427.57,207.10 L427.57,212.00 L422.67,212.00 L419.03,193.30 L419.03,188.40 L423.93,188.40Z M438.53,243.80 L438.53,248.70 L433.63,248.70 L429.47,232.20 L429.47,227.30 L434.37,227.30Z M450.98,281.30 L450.98,286.20 L446.08,286.20 L441.42,269.10 L441.42,264.20 L446.32,264.20Z M467.72,319.60 L467.72,324.50 L462.82,324.50 L455.98,306.60 L455.98,301.70 L460.88,301.70Z M490.37,357.60 L490.37,362.50 L485.47,362.50 L475.93,344.20 L475.93,339.30 L480.83,339.30Z M520.30,388.22 L520.30,393.12 L515.40,393.12 L503.50,381.78 L503.50,376.88 L508.40,376.88Z M554.70,411.41 L554.70,416.31 L549.80,416.31 L534.30,409.09 L534.30,404.19 L539.20,404.19Z M587.70,428.90 L587.70,433.80 L582.80,433.80 L566.30,427.40 L566.30,422.50 L571.20,422.50Z M622.00,443.43 L622.00,448.33 L617.10,448.33 L600.00,442.57 L600.00,437.67 L604.90,437.67Z M654.70,456.05 L654.70,460.95 L649.80,460.95 L633.30,455.55 L633.30,450.65 L638.20,450.65Z M687.70,471.43 L687.70,476.33 L682.80,476.33 L666.70,470.97 L666.70,466.07 L671.60,466.07Z M721.70,491.77 L721.70,496.67 L716.80,496.67 L700.30,488.03 L700.30,483.13 L705.20,483.13Z M749.90,516.50 L749.90,521.40 L745.00,521.40 L733.30,510.20 L733.30,505.30 L738.20,505.30Z M777.51,547.70 L777.51,552.60 L772.61,552.60 L763.59,537.30 L763.59,532.40 L768.49,532.40Z M801.42,583.30 L801.42,588.20 L796.52,588.20 L787.48,570.20 L787.48,565.30 L792.38,565.30Z M820.94,620.80 L820.94,625.70 L816.04,625.70 L808.86,608.20 L808.86,603.30 L813.76,603.30Z M837.72,658.90 L837.72,663.80 L832.82,663.80 L827.48,645.90 L827.48,641.00 L832.38,641.00Z M851.05,696.30 L851.05,701.20 L846.15,701.20 L841.95,683.90 L841.95,679.00 L846.85,679.00Z M863.33,735.40 L863.33,740.30 L858.43,740.30 L853.57,721.10 L853.57,716.20 L858.47,716.20Z M872.84,772.00 L872.84,776.90 L867.94,776.90 L864.96,759.20 L864.96,754.30 L869.86,754.30Z M882.39,809.50 L882.39,814.40 L877.49,814.40 L874.21,796.70 L874.21,791.80 L879.11,791.80Z M890.78,847.60 L890.78,852.50 L885.88,852.50 L883.02,833.60 L883.02,828.70 L887.92,828.70Z" fill="#0000c4"/>
<rect x="619" y="68.3" width="405" height="99.3" fill="#fff" stroke="#000" stroke-width="2"/>
<rect x="635.3" y="97.6" width="85" height="4.6" fill="#000"/>
<rect x="654.1" y="133.1" width="23.7" height="4.6" fill="#0000c4"/>
<rect x="691.9" y="133.1" width="23.6" height="4.6" fill="#0000c4"/>
<circle cx="677.9" cy="135.3" r="6.4" fill="none" stroke="#6464a8" stroke-width="1.1"/>
<text x="727.6" y="113.3" font-size="33" font-family="Liberation Sans, sans-serif" fill="#000">SMPBE</text>
<text x="726.5" y="147.6" font-size="33" font-family="Liberation Sans, sans-serif" fill="#0000c4">PBE (zero ion size)</text>
<text x="171.5" y="31.7" font-size="33" font-family="Liberation Sans, sans-serif" text-anchor="end">0.005</text>
<text x="171.5" y="116.5" font-size="33" font-family="Liberation Sans, sans-serif" text-anchor="end">0.004</text>
<text x="171.5" y="201.3" font-size="33" font-family="Liberation Sans, sans-serif" text-anchor="end">0.003</text>
<text x="171.5" y="286.2" font-size="33" font-family="Liberation Sans, sans-serif" text-anchor="end">0.002</text>
<text x="171.5" y="371.0" font-size="33" font-family="Liberation Sans, sans-serif" text-anchor="end">0.001</text>
<text x="171.5" y="455.8" font-size="33" font-family="Liberation Sans, sans-serif" text-anchor="end">0</text>
<text x="171.5" y="540.6" font-size="33" font-family="Liberation Sans, sans-serif" text-anchor="end">-0.001</text>
<text x="171.5" y="625.4" font-size="33" font-family="Liberation Sans, sans-serif" text-anchor="end">-0.002</text>
<text x="171.5" y="710.3" font-size="33" font-family="Liberation Sans, sans-serif" text-anchor="end">-0.003</text>
<text x="171.5" y="795.1" font-size="33" font-family="Liberation Sans, sans-serif" text-anchor="end">-0.004</text>
<text x="171.5" y="879.9" font-size="33" font-family="Liberation Sans, sans-serif" text-anchor="end">-0.005</text>
<text x="192.2" y="918.2" font-size="33" font-family="Liberation Sans, sans-serif" text-anchor="middle">-5</text>
<text x="277.0" y="918.2" font-size="33" font-family="Liberation Sans, sans-serif" text-anchor="middle">-4</text>
<text x="361.8" y="918.2" font-size="33" font-family="Liberation Sans, sans-serif" text-anchor="middle">-3</text>
<text x="446.6" y="918.2" font-size="33" font-family="Liberation Sans, sans-serif" text-anchor="middle">-2</text>
<text x="531.4" y="918.2" font-size="33" font-family="Liberation Sans, sans-serif" text-anchor="middle">-1</text>
<text x="616.9" y="918.2" font-size="33" font-family="Liberation Sans, sans-serif" text-anchor="middle">0</text>
<text x="701.7" y="918.2" font-size="33" font-family="Liberation Sans, sans-serif" text-anchor="middle">1</text>
<text x="786.5" y="918.2" font-size="33" font-family="Liberation Sans, sans-serif" text-anchor="middle">2</text>
<text x="871.3" y="918.2" font-size="33" font-family="Liberation Sans, sans-serif" text-anchor="middle">3</text>
<text x="956.1" y="918.2" font-size="33" font-family="Liberation Sans, sans-serif" text-anchor="middle">4</text>
<text x="1040.9" y="918.2" font-size="33" font-family="Liberation Sans, sans-serif" text-anchor="middle">5</text>
<text y="981.7" font-size="33" font-family="Liberation Sans, sans-serif"><tspan x="451.4">Potential,</tspan></text>
<text x="598.5" y="981.7" font-size="33" font-family="Liberation Serif, serif">&#981;</text>
<text y="981.7" font-size="33" font-family="Liberation Sans, sans-serif"><tspan x="635">[</tspan><tspan x="654">k</tspan></text>
<text x="669.3" y="998.7" font-size="22" font-family="Liberation Sans, sans-serif">B</text>
<text y="982.7" font-size="33" font-family="Liberation Sans, sans-serif"><tspan x="684.5">-</tspan></text>
<text y="981.7" font-size="33" font-family="Liberation Sans, sans-serif"><tspan x="696.5">T</tspan><tspan x="726">/</tspan><tspan x="743.5">e</tspan><tspan x="773">]</tspan></text>
<g transform="translate(34.9,0) rotate(-90)">
<text y="0" font-size="33" font-family="Liberation Sans, sans-serif"><tspan x="-686.0">Mobile charge density,</tspan></text>
<text y="0" font-size="29" font-family="Liberation Sans, sans-serif"><tspan x="-346.1">&#961;</tspan></text>
<text y="-17.2" font-size="22" font-family="Liberation Sans, sans-serif"><tspan x="-331.3">ion</tspan></text>
<text y="0" font-size="33" font-family="Liberation Sans, sans-serif"><tspan x="-284.7">[</tspan><tspan x="-266.0">e</tspan><tspan x="-238.0">/</tspan><tspan x="-218.9">A</tspan><tspan x="-175.4">]</tspan></text>
<text y="-17.5" font-size="22" font-family="Liberation Sans, sans-serif"><tspan x="-197.2">3</tspan></text>
</g>
<circle cx="8.9" cy="208.5" r="1.9" fill="none" stroke="#000" stroke-width="1.2"/></svg></body></html>
